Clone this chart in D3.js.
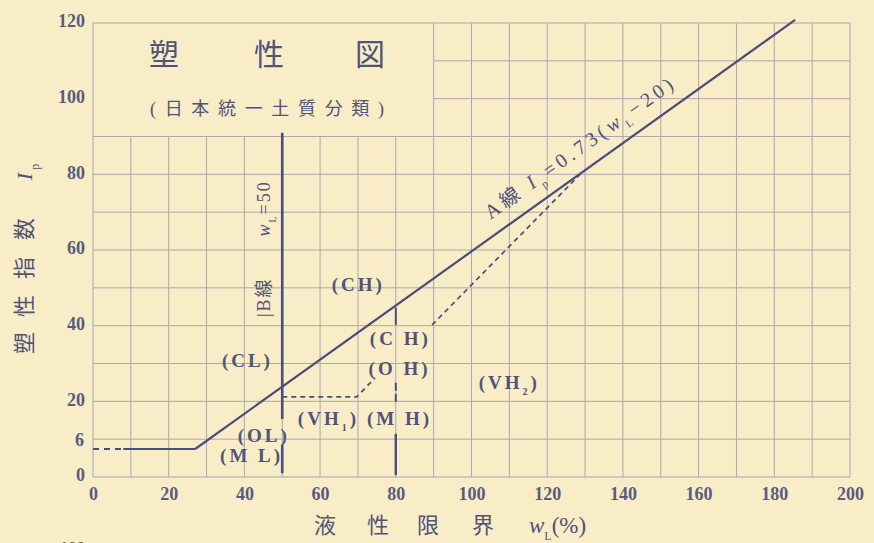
<!DOCTYPE html>
<html>
<head>
<meta charset="utf-8">
<script src="https://cdn.jsdelivr.net/npm/d3@7"></script>
<style>
  body { margin: 0; background: #f8edc6; }
  svg { display: block; }
  text { font-family: "Liberation Serif", "Noto Sans CJK JP", serif; fill: #50537a; }
</style>
</head>
<body>
<div id="chart"></div>
<script>
// tick values
var xTicks = [0, 20, 40, 60, 80, 100, 120, 140, 160, 180, 200];
var yTicks = [0, 20, 40, 60, 80, 100, 120];
var gridX = d3.range(0, 201, 10);
var gridY = d3.range(0, 121, 10);

// boundary lines, [w_L, I_p]
var aLine = [[27, 7.4], [185.5, 120.8]];
var mlDashed = [[0, 7.4], [8, 7.4]];
var mlSolid = [[8, 7.4], [27, 7.4]];
var bLineUpper = [[50, 91], [50, 15.3]];
var bLineLower = [[50, 8.5], [50, 1]];
var vh1Edge = [[50, 21.2], [69.7, 21.2], [74.5, 26.2]];
var vh2Edge = [[89.6, 40.2], [128.7, 80]];
var line80Top = [[80, 44.8], [80, 40.2]];
var line80Mid = [[80, 24.9], [80, 19.6]];
var line80Bottom = [[80, 11.4], [80, 0.5]];

// zone labels
var zoneNames = ["(CL)", "(CH)", "(C H)", "(O H)", "(VH", "(VH", "(M H)", "(OL)", "(M L)"];
var zoneSubs  = ["", "", "", "", "2", "1", "", "", ""];
var zoneWL    = [40.4, 69.7, 80.8, 80.6, 109.6, 61.8, 80.6, 44.7, 41.5];
var zoneIP    = [30.9, 50.8, 36.7, 28.8, 25.1, 15.6, 15.6, 11.1, 5.8];

var margin = {top: 23, right: 24, bottom: 66, left: 93},
    width = 874 - margin.left - margin.right,
    height = 543 - margin.top - margin.bottom;

var svgRoot = d3.select("#chart")
  .append("svg")
    .attr("width", 874)
    .attr("height", 543);

var svg = svgRoot.append("g")
    .attr("transform", "translate(" + margin.left + "," + margin.top + ")");

var x = d3.scaleLinear().domain([0, 200]).range([0, width]);
var y = d3.scaleLinear().domain([0, 120]).range([height, 0]);

var ink = "#4a4d7c";
var gridColor = "#a9a7b2";

// grid, the title box (w_L<90, I_p>90) stays empty
svg.selectAll(".vgrid")
  .data(gridX)
  .enter().append("line")
    .attr("x1", function(d) { return x(d); })
    .attr("x2", function(d) { return x(d); })
    .attr("y1", y(0))
    .attr("y2", function(d) { return (d > 0 && d < 90) ? y(90) : y(120); })
    .attr("stroke", gridColor)
    .attr("stroke-width", 1);

svg.selectAll(".hgrid")
  .data(gridY)
  .enter().append("line")
    .attr("y1", function(d) { return y(d); })
    .attr("y2", function(d) { return y(d); })
    .attr("x1", function(d) { return (d > 90 && d < 120) ? x(90) : x(0); })
    .attr("x2", x(200))
    .attr("stroke", gridColor)
    .attr("stroke-width", 1);

// axes (labels only)
var yAxis = svg.append("g")
    .call(d3.axisLeft(y).tickValues(yTicks).tickSize(0).tickPadding(8));
var xAxis = svg.append("g")
    .attr("transform", "translate(0," + height + ")")
    .call(d3.axisBottom(x).tickValues(xTicks).tickSize(0).tickPadding(10));
[xAxis, yAxis].forEach(function(a) {
  a.select(".domain").remove();
  a.selectAll("text")
    .style("font-size", "18px")
    .style("font-weight", "bold")
    .style("fill", "#585b80")
    .style("font-family", "'Liberation Serif', serif");
});
yAxis.selectAll("text").attr("dy", "0.22em");

// "6" label for the lower limit
svg.append("text")
    .attr("x", -9)
    .attr("y", y(mlDashed[0][1]) - 3)
    .attr("text-anchor", "end")
    .style("font-size", "18px")
    .style("font-weight", "bold")
    .style("fill", "#585b80")
    .text("6");

var line = d3.line()
    .x(function(d) { return x(d[0]); })
    .y(function(d) { return y(d[1]); });

function draw(pts, w, dash) {
  svg.append("path")
    .attr("d", line(pts))
    .attr("fill", "none")
    .attr("stroke", ink)
    .attr("stroke-width", w)
    .attr("stroke-dasharray", dash || null);
}

draw(aLine, 2.2);
draw(mlDashed, 1.8, "6,5");
draw(mlSolid, 2.2);
draw(bLineUpper, 2.6);
draw(bLineLower, 2.6);
draw(vh1Edge, 1.7, "5,4");
draw(vh2Edge, 1.7, "5,4");
draw(line80Top, 2);
draw(line80Mid, 2, "8,3");
draw(line80Bottom, 2.4);

// zone labels
zoneNames.forEach(function(n, i) {
  var t = svg.append("text")
      .attr("x", x(zoneWL[i]) + 1.5)
      .attr("y", y(zoneIP[i]))
      .attr("dy", "0.35em")
      .attr("text-anchor", "middle")
      .style("font-size", "19px")
      .style("font-weight", "bold")
      .style("letter-spacing", "3px")
      .text(n);
  if (zoneSubs[i]) {
    t.append("tspan").attr("baseline-shift", "sub").style("font-size", "10px").text(zoneSubs[i]);
    t.append("tspan").text(")");
  }
});

// A line label, along the line
var ax0 = x(aLine[0][0]), ay0 = y(aLine[0][1]), ax1 = x(aLine[1][0]), ay1 = y(aLine[1][1]);
var ang = Math.atan2(ay1 - ay0, ax1 - ax0) * 180 / Math.PI;
var aLab = svg.append("text")
    .attr("transform", "translate(" + x(131) + "," + y(0.73 * 111 + 3) + ") rotate(" + ang + ")")
    .attr("y", -8)
    .attr("text-anchor", "middle")
    .style("font-size", "20px")
    .style("letter-spacing", "4px");
aLab.append("tspan").text("A線 ");
aLab.append("tspan").style("font-style", "italic").text("I");
aLab.append("tspan").attr("baseline-shift", "sub").style("font-size", "11px").text("p");
aLab.append("tspan").text("=0.73(");
aLab.append("tspan").style("font-style", "italic").text("w");
aLab.append("tspan").attr("baseline-shift", "sub").style("font-size", "11px").text("L");
aLab.append("tspan").text("−20)");

// B line labels
svg.append("text")
    .attr("transform", "translate(" + (x(50) - 19) + "," + y(47.5) + ") rotate(-90)")
    .attr("dy", "0.35em")
    .attr("text-anchor", "middle")
    .style("font-size", "18px")
    .style("letter-spacing", "2px")
    .text("|B線");
var bLab = svg.append("text")
    .attr("transform", "translate(" + (x(50) - 19) + "," + y(71) + ") rotate(-90)")
    .attr("dy", "0.35em")
    .attr("text-anchor", "middle")
    .style("font-size", "18px")
    .style("letter-spacing", "2px");
bLab.append("tspan").style("font-style", "italic").text("w");
bLab.append("tspan").attr("baseline-shift", "sub").style("font-size", "10px").text("L");
bLab.append("tspan").text("=50");

// title box text
var titleChars = ["塑", "性", "図"];
var titleX = [164, 269, 370];
titleChars.forEach(function(c, i) {
  svgRoot.append("text")
    .attr("x", titleX[i]).attr("y", 54)
    .attr("dy", "0.36em")
    .attr("text-anchor", "middle")
    .style("font-family", "'Noto Sans CJK JP', sans-serif")
    .style("font-size", "30px")
    .text(c);
});
svgRoot.append("text")
    .attr("x", 150).attr("y", 109)
    .attr("dy", "0.36em")
    .attr("textLength", 234)
    .attr("lengthAdjust", "spacing")
    .style("font-size", "18px")
    .text("(日本統一土質分類)");

// y axis title, turned sideways like the rest of the label
var yTitle = ["塑", "性", "指", "数"];
var yTitleY = [343, 306, 268, 229];
yTitle.forEach(function(c, i) {
  svgRoot.append("text")
    .attr("transform", "translate(24," + yTitleY[i] + ") rotate(-90)")
    .attr("dy", "0.36em")
    .attr("text-anchor", "middle")
    .style("font-family", "'Noto Sans CJK JP', sans-serif")
    .style("font-size", "22px")
    .text(c);
});
var ip = svgRoot.append("text")
    .attr("transform", "translate(24,172) rotate(-90)")
    .attr("dy", "0.35em")
    .attr("text-anchor", "middle")
    .style("font-size", "22px");
ip.append("tspan").style("font-style", "italic").text("I");
ip.append("tspan").attr("baseline-shift", "sub").style("font-size", "12px").text(" p");

// x axis title
var xTitle = ["液", "性", "限", "界"];
var xTitleX = [325, 378, 428, 483];
xTitle.forEach(function(c, i) {
  svgRoot.append("text")
    .attr("x", xTitleX[i]).attr("y", 525)
    .attr("dy", "0.36em")
    .attr("text-anchor", "middle")
    .style("font-family", "'Noto Sans CJK JP', sans-serif")
    .style("font-size", "22px")
    .text(c);
});
var wl = svgRoot.append("text")
    .attr("x", 529).attr("y", 525)
    .attr("dy", "0.36em")
    .style("font-size", "23px");
wl.append("tspan").style("font-style", "italic").text("w");
wl.append("tspan").attr("baseline-shift", "sub").style("font-size", "12px").text("L");
wl.append("tspan").text("(%)");

// top of the next figure's tick label, cut off by the page edge
svgRoot.append("text")
    .attr("x", 85).attr("y", 553)
    .attr("text-anchor", "end")
    .style("font-size", "17px")
    .style("font-weight", "bold")
    .style("fill", "#585b80")
    .text("100");
</script>
</body>
</html>
